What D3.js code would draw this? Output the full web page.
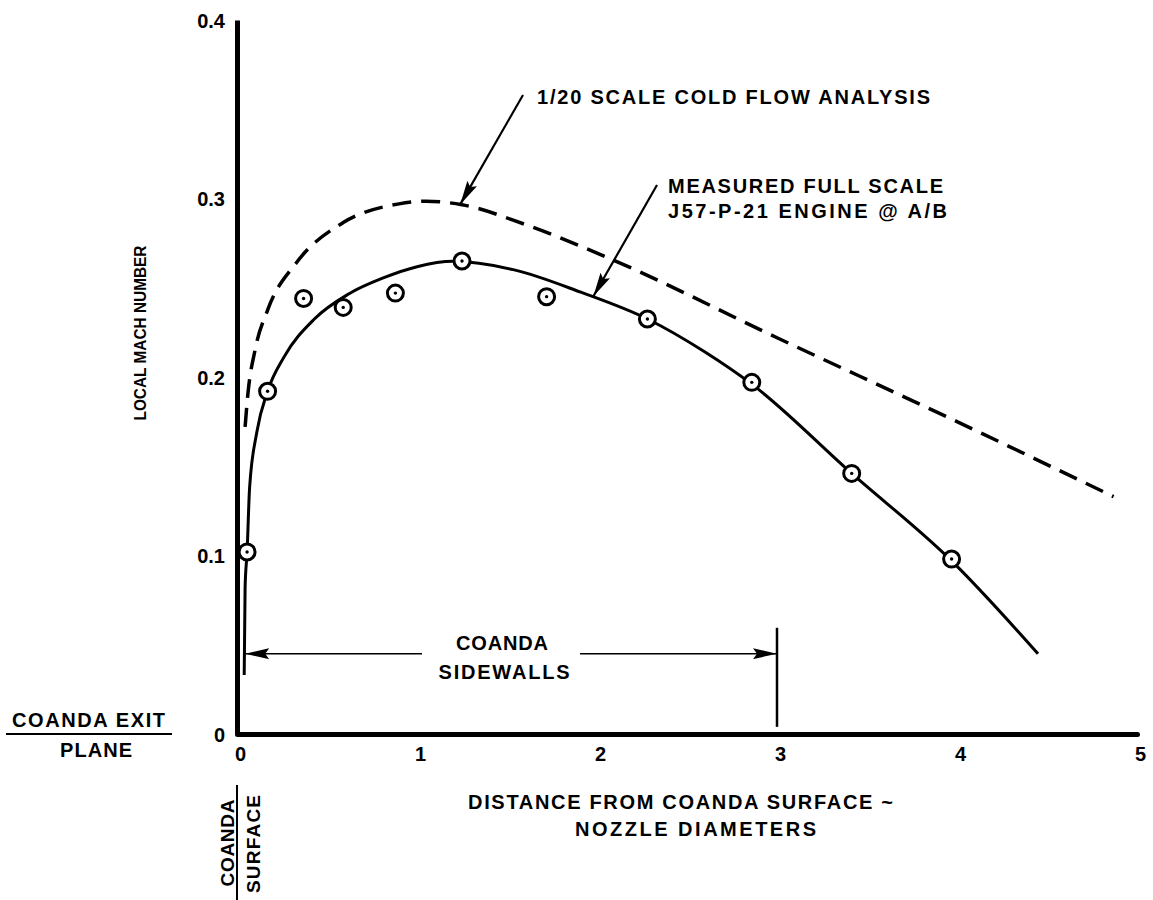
<!DOCTYPE html>
<html lang="en">
<head>
<meta charset="utf-8">
<style type="text/css">
	body { margin: 0; background: white; }
	text {
		font-family: "Liberation Sans", Arial, sans-serif;
		font-weight: bold;
		fill: black;
	}
	.tick text { font-size: 20px; }
</style>
</head>
<body>
<script src="https://cdn.jsdelivr.net/npm/d3@7"></script>
<script type="text/javascript">
// axis ticks
var xTicks = [0, 1, 2, 3, 4, 5];
var yTicks = [0, 0.1, 0.2, 0.3, 0.4];

// measured full scale points (circles)
var measuredX = [0.056, 0.17, 0.37, 0.59, 0.88, 1.25, 1.72, 2.28, 2.86, 3.415, 3.97];
var measuredY = [0.102, 0.192, 0.244, 0.239, 0.247, 0.265, 0.245, 0.2325, 0.197, 0.146, 0.098];

// faired curve through the measured points
var fitX = [0.04, 0.045, 0.056, 0.07, 0.11, 0.17, 0.26, 0.43, 0.62, 0.82, 1.0, 1.2, 1.54, 1.91, 2.28, 2.6, 2.86, 3.415, 3.97, 4.45];
var fitY = [0.033, 0.082, 0.102, 0.138, 0.169, 0.192, 0.211, 0.2325, 0.2465, 0.2558, 0.2618, 0.2648, 0.26, 0.2475, 0.2325, 0.214, 0.196, 0.146, 0.097, 0.045];

// 1/20 scale cold flow analysis (dashed)
var coldX = [0.045, 0.06, 0.1, 0.17, 0.33, 0.59, 0.9, 1.05, 1.25, 1.6, 2.09, 3, 4, 4.87];
var coldY = [0.172, 0.19, 0.215, 0.2375, 0.264, 0.2865, 0.297, 0.2985, 0.2965, 0.2855, 0.2655, 0.222, 0.175, 0.133];

var width = 1153, height = 900;

var x = d3.scaleLinear().domain([0, 5]).range([237, 1137]);
var y = d3.scaleLinear().domain([0, 0.4]).range([734, 20]);

var svg = d3.select("body")
	.append("svg")
	.attr("width", width)
	.attr("height", height);

var defs = svg.append("defs");
defs.append("marker")
	.attr("id", "head")
	.attr("viewBox", "0 0 24 11")
	.attr("refX", 24)
	.attr("refY", 5.5)
	.attr("markerWidth", 24)
	.attr("markerHeight", 11)
	.attr("markerUnits", "userSpaceOnUse")
	.attr("orient", "auto")
	.append("path")
	.attr("d", "M0,0 L24,5.5 L0,11 L4,5.5 Z")
	.attr("fill", "black");

// axes
var xAxis = svg.append("g")
	.attr("transform", "translate(0," + y(0) + ")")
	.call(d3.axisBottom(x).tickValues(xTicks).tickSize(0).tickSizeOuter(0).tickPadding(13)
		.tickFormat(d3.format("d")));
xAxis.select(".domain").attr("stroke-width", 5).attr("stroke-linecap", "round");
xAxis.selectAll(".tick text").attr("dx", 3);

var yAxis = svg.append("g")
	.attr("transform", "translate(" + x(0) + ",0)")
	.call(d3.axisLeft(y).tickValues(yTicks).tickSize(0).tickSizeOuter(0).tickPadding(12)
		.tickFormat(function (d) { return d === 0 ? "0" : d3.format(".1f")(d); }));
yAxis.select(".domain").attr("stroke-width", 5);
yAxis.selectAll(".tick text").attr("dy", "0.36em");

// curves
var lineGen = d3.line()
	.x(function (d) { return x(d[0]); })
	.y(function (d) { return y(d[1]); })
	.curve(d3.curveMonotoneX);

svg.append("path")
	.datum(d3.zip(coldX, coldY))
	.attr("d", lineGen)
	.attr("fill", "none")
	.attr("stroke", "black")
	.attr("stroke-width", 3.5)
	.attr("stroke-dasharray", "19,10");

svg.append("path")
	.datum(d3.zip(fitX, fitY))
	.attr("d", lineGen)
	.attr("fill", "none")
	.attr("stroke", "black")
	.attr("stroke-width", 3);

var pts = svg.append("g")
	.selectAll("g")
	.data(d3.zip(measuredX, measuredY))
	.enter()
	.append("g")
	.attr("transform", function (d) { return "translate(" + x(d[0]) + "," + y(d[1]) + ")"; });
pts.append("circle")
	.attr("r", 8)
	.attr("fill", "white")
	.attr("stroke", "black")
	.attr("stroke-width", 3);
pts.append("circle")
	.attr("r", 1.7)
	.attr("fill", "black");

// sidewalls marker
var swArrow = y(0.045);
svg.append("line")
	.attr("x1", x(3)).attr("x2", x(3))
	.attr("y1", y(0.0595)).attr("y2", y(0.004))
	.attr("stroke", "black").attr("stroke-width", 2.5);
svg.append("line")
	.attr("x1", 422).attr("x2", x(0.04) + 1)
	.attr("y1", swArrow).attr("y2", swArrow)
	.attr("stroke", "black").attr("stroke-width", 1.5)
	.attr("marker-end", "url(#head)");
svg.append("line")
	.attr("x1", 580).attr("x2", x(3))
	.attr("y1", swArrow).attr("y2", swArrow)
	.attr("stroke", "black").attr("stroke-width", 1.5)
	.attr("marker-end", "url(#head)");

function label(txt, px, py, len, anchor, size) {
	var t = svg.append("text")
		.attr("x", px).attr("y", py)
		.attr("text-anchor", anchor || "start")
		.style("font-size", (size || 20) + "px")
		.text(txt);
	if (len) t.attr("textLength", len).attr("lengthAdjust", "spacing");
	return t;
}

label("COANDA", 502, 650, 92, "middle");
label("SIDEWALLS", 504, 679, 131, "middle");

// annotations
svg.append("line")
	.attr("x1", 523).attr("y1", 95)
	.attr("x2", x(1.24)).attr("y2", y(0.2967))
	.attr("stroke", "black").attr("stroke-width", 2.2)
	.attr("marker-end", "url(#head)");
label("1/20 SCALE COLD FLOW ANALYSIS", 537, 104, 393);

svg.append("line")
	.attr("x1", 657).attr("y1", 185)
	.attr("x2", x(1.98)).attr("y2", y(0.2452))
	.attr("stroke", "black").attr("stroke-width", 2.2)
	.attr("marker-end", "url(#head)");
label("MEASURED FULL SCALE", 668, 193, 275);
label("J57-P-21 ENGINE @ A/B", 668, 218, 279);

// axis titles
label("DISTANCE FROM COANDA SURFACE ~", 468, 809, 425);
label("NOZZLE DIAMETERS", 575, 836, 241);

svg.append("text")
	.attr("transform", "translate(146,333) rotate(-90)")
	.attr("text-anchor", "middle")
	.style("font-size", "17px")
	.attr("textLength", 175).attr("lengthAdjust", "spacingAndGlyphs")
	.text("LOCAL MACH NUMBER");

// coanda exit plane
label("COANDA EXIT", 12, 727, 153);
svg.append("line")
	.attr("x1", 6).attr("x2", 172).attr("y1", 734).attr("y2", 734)
	.attr("stroke", "black").attr("stroke-width", 2);
label("PLANE", 96, 757, 72, "middle");

// coanda surface
svg.append("line")
	.attr("x1", 237).attr("x2", 237).attr("y1", 785).attr("y2", 900)
	.attr("stroke", "black").attr("stroke-width", 2);
svg.append("text")
	.attr("transform", "translate(234,843) rotate(-90)")
	.attr("text-anchor", "middle")
	.style("font-size", "19px")
	.attr("textLength", 87).attr("lengthAdjust", "spacing")
	.text("COANDA");
svg.append("text")
	.attr("transform", "translate(260,844) rotate(-90)")
	.attr("text-anchor", "middle")
	.style("font-size", "19px")
	.attr("textLength", 98).attr("lengthAdjust", "spacing")
	.text("SURFACE");
</script>
</body>
</html>
